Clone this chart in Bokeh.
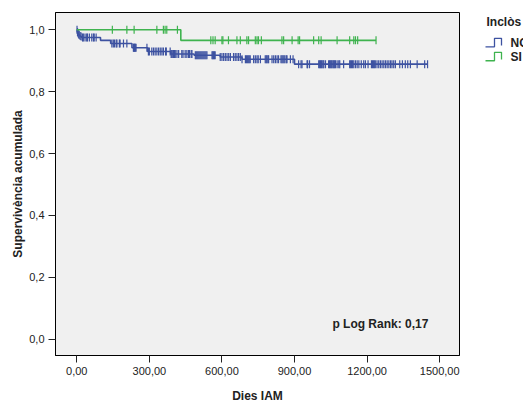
import numpy as np
from bokeh.plotting import figure
from bokeh.layouts import row
from bokeh.models import (Label, FixedTicker, Range1d, CustomJSTickFormatter)
from bokeh.core.properties import value
from bokeh.embed import file_html
from bokeh.resources import INLINE

# ---------------- data ----------------
no_event_days = [0, 2, 4, 6, 9, 12, 16, 20, 98, 140, 228, 293, 388, 485, 593, 683, 900]
no_surv = [1.0, 0.993, 0.989, 0.986, 0.983, 0.980, 0.978, 0.975, 0.966, 0.956,
           0.942, 0.930, 0.922, 0.918, 0.912, 0.905, 0.889]
no_end_day = 1450
no_censor_days = [1, 3, 5, 8, 10, 14, 18, 24, 27, 34, 41, 44, 52, 62, 69, 72, 80,
                  145, 151, 156, 163, 166, 176, 179, 193, 207, 234, 236, 238, 240, 242, 245,
                  290, 296, 300, 310, 317, 324, 331, 338, 345, 352, 358, 367, 370,
                  386, 390, 393, 397, 400, 404, 407, 414, 421, 434, 439, 448, 455, 462, 466,
                  473, 476, 490, 494, 498, 502, 506, 510, 514, 518, 522, 526, 530, 534, 538,
                  559, 562, 565, 569, 572, 593, 600, 607, 614, 621, 628, 635, 648, 655, 662,
                  669, 676, 683, 697, 701, 705, 709, 713, 717, 731, 738, 745, 750, 759,
                  779, 783, 786, 790, 793, 807, 814, 821, 828, 834, 844, 848, 852, 856, 860,
                  866, 869, 883, 894, 917, 927, 931, 952, 954, 962, 1000, 1004, 1007, 1011,
                  1014, 1018, 1021, 1028, 1041, 1045, 1048, 1052, 1055, 1059, 1062, 1066,
                  1069, 1076, 1083, 1087, 1103, 1128, 1132, 1136, 1140, 1145, 1152, 1159,
                  1166, 1176, 1186, 1193, 1204, 1218, 1222, 1226, 1230, 1234, 1241, 1248,
                  1255, 1262, 1269, 1276, 1283, 1290, 1297, 1303, 1310, 1317, 1335, 1346,
                  1358, 1368, 1379, 1407, 1438, 1450]

si_event_days = [0, 430]
si_surv = [1.0, 0.966]
si_end_day = 1237
si_censor_days = [147, 207, 237, 331, 358, 365, 372, 416,
                  554, 563, 572, 600, 604, 627, 662, 676, 703, 710, 738, 745, 751, 763,
                  848, 855, 890, 915, 921, 979, 1000, 1010, 1076, 1128, 1145, 1152, 1161, 1237]

group_labels = ["NO", "SI"]
x_ticks = [0, 300, 600, 900, 1200, 1500]
y_ticks = [0.0, 0.2, 0.4, 0.6, 0.8, 1.0]
legend_title = "Inclòs"
x_title = "Dies IAM"
y_title = "Supervivència acumulada"
note_text = "p Log Rank: 0,17"
note_pos = (1255, 0.048)

BLUE = "#3d52a1"
GREEN = "#3fb34f"
COLORS = [BLUE, GREEN]
FONT = "Liberation Sans"
TXT = "#222222"


def level_at(days, surv, t):
    i = np.searchsorted(np.asarray(days), t, side="right") - 1
    return float(np.asarray(surv)[i])


# ---------------- main chart ----------------
p = figure(width=470, height=405, output_backend="svg", toolbar_location=None,
           x_range=Range1d(-88, 1582), y_range=Range1d(-0.053, 1.056),
           min_border_left=55, min_border_right=11, min_border_top=12, min_border_bottom=47)
p.title.visible = False
p.background_fill_color = "#f0f0f0"
p.border_fill_color = "#ffffff"
p.outline_line_color = "#000000"
p.outline_line_width = 1
p.xgrid.visible = False
p.ygrid.visible = False

for days, surv, end, cens, col in [(no_event_days, no_surv, no_end_day, no_censor_days, BLUE),
                                    (si_event_days, si_surv, si_end_day, si_censor_days, GREEN)]:
    xs = list(days) + [end]
    ys = list(surv) + [surv[-1]]
    p.step(xs, ys, mode="after", line_color=col, line_width=1.6)
    cy = [level_at(days, surv, t) for t in cens]
    p.scatter(cens, cy, marker="dash", angle=np.pi / 2, size=8,
              line_color=col, line_width=1.2)

for ax, ticks, fmt, title in [(p.xaxis[0], x_ticks, "return tick.toFixed(2).replace('.', ',')", x_title),
                              (p.yaxis[0], y_ticks, "return tick.toFixed(1).replace('.', ',')", y_title)]:
    ax.ticker = FixedTicker(ticks=ticks)
    ax.formatter = CustomJSTickFormatter(code=fmt)
    ax.axis_label = title
    ax.axis_label_text_font = FONT
    ax.axis_label_text_font_style = "bold"
    ax.axis_label_text_font_size = "12px"
    ax.axis_label_text_color = TXT
    ax.major_label_text_font = FONT
    ax.major_label_text_font_size = "11px"
    ax.major_label_text_color = TXT
    ax.major_tick_out = 7
    ax.major_tick_in = 0
    ax.minor_tick_out = 0
    ax.minor_tick_in = 0
    ax.major_tick_line_color = TXT
    ax.axis_line_color = "#000000"
    ax.major_label_standoff = 4

p.xaxis[0].axis_label_standoff = 11
p.yaxis[0].axis_label_standoff = 1

p.add_layout(Label(x=note_pos[0], y=note_pos[1], text=note_text, text_font=FONT,
                   text_font_style="bold", text_font_size="12px", text_color=TXT,
                   text_align="center", text_baseline="middle"))

# ---------------- legend panel (pixel coordinates of the window) ----------------
lg = figure(width=53, height=405, output_backend="svg", toolbar_location=None,
            x_range=Range1d(470, 523), y_range=Range1d(405, 0),
            x_axis_type=None, y_axis_type=None,
            min_border_left=0, min_border_right=0, min_border_top=0, min_border_bottom=0)
lg.title.visible = False
lg.grid.visible = False
lg.outline_line_color = None
lg.background_fill_color = "#ffffff"
lg.border_fill_color = "#ffffff"

lg.text(x=[486], y=[11.5], text=[legend_title], text_font=value(FONT), text_font_style="bold",
        text_font_size="12px", text_color=TXT, text_baseline="middle")
icon_tops = [30.5, 47.0]
for i, lab in enumerate(group_labels):
    t = icon_tops[i]
    b = t + 10
    lg.line(x=[485, 494, 494, 501, 501], y=[b, b, t, t, b - 1.5],
            line_color=COLORS[i], line_width=1.3)
    lg.text(x=[510], y=[(t + b) / 2], text=[lab], text_font=value(FONT), text_font_style="bold",
            text_font_size="12px", text_color=TXT, text_baseline="middle")

layout = row(p, lg, spacing=0)
open("out.html", "w").write(file_html(layout, INLINE))
